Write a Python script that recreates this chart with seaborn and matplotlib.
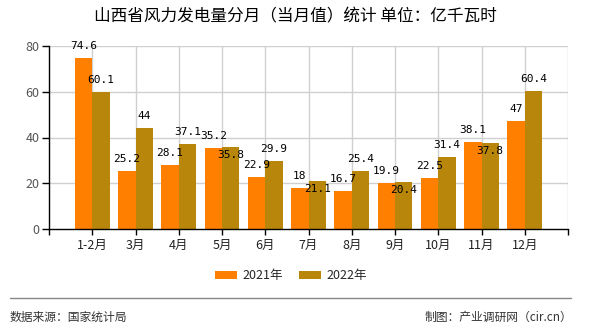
import matplotlib
matplotlib.use("Agg")
import matplotlib.pyplot as plt
from matplotlib.lines import Line2D
import seaborn as sns
import pandas as pd

categories = ["1-2月", "3月", "4月", "5月", "6月", "7月", "8月", "9月", "10月", "11月", "12月"]
values_2021 = [74.6, 25.2, 28.1, 35.2, 22.9, 18, 16.7, 19.9, 22.5, 38.1, 47]
values_2022 = [60.1, 44, 37.1, 35.8, 29.9, 21.1, 25.4, 20.4, 31.4, 37.8, 60.4]
series_names = ["2021年", "2022年"]
# labels of 2022 placed inside bar top (to avoid overlap), as in reference
inside_2022 = ["5月", "7月", "9月", "11月"]
yticks = [0, 20, 40, 60, 80]

sns.set_theme(style="white")
plt.rcParams['font.family'] = ['Noto Sans CJK SC', 'DejaVu Sans']

df = pd.DataFrame({
    "月份": categories * 2,
    "值": values_2021 + values_2022,
    "年份": [series_names[0]] * len(categories) + [series_names[1]] * len(categories),
})

fig = plt.figure(figsize=(5.9, 3.3), dpi=100)
ax = fig.add_axes([49/590, 1 - 229/330, (568 - 49)/590, (229 - 46)/330])

palette = {series_names[0]: "#FF8000", series_names[1]: "#B8860B"}
sns.barplot(data=df, x="月份", y="值", hue="年份", palette=palette, ax=ax,
            width=0.8, saturation=1, legend=True, zorder=3, linewidth=0, edgecolor="none")

ax.set_xlim(-1, len(categories))
ax.set_ylim(0, 80)
ax.set_yticks(yticks)
ax.set_xlabel("")
ax.set_ylabel("")

# grid
for y in yticks[1:]:
    ax.axhline(y, color="#d0d0d0", lw=1, zorder=1)
for x in range(0, len(categories) + 1):
    ax.axvline(x, color="#d0d0d0", lw=1, zorder=1)

for s in ["top", "right"]:
    ax.spines[s].set_visible(False)
for s in ["left", "bottom"]:
    ax.spines[s].set_color("black")
    ax.spines[s].set_linewidth(1)
    ax.spines[s].set_zorder(4)

ax.tick_params(axis="y", length=5, width=1, color="black", labelsize=9, labelcolor="#555555", pad=2, left=True)
ax.tick_params(axis="x", length=4, width=1, color="black", labelsize=9, labelcolor="#222222", pad=3, bottom=True)
ax.set_xticks(range(len(categories)))
ax.set_xticklabels(categories)
ax.set_xticks([-1, len(categories)], minor=True)
ax.tick_params(axis="x", which="minor", length=4, width=1, color="black", bottom=True)

# value labels
label_font = dict(fontsize=8, family="DejaVu Sans Mono", color="black", ha="center", va="center", zorder=6)
for cont_idx, cont in enumerate(ax.containers):
    vals = values_2021 if cont_idx == 0 else values_2022
    for i, rect in enumerate(cont):
        xc = rect.get_x() + rect.get_width() / 2
        v = vals[i]
        if cont_idx == 1 and categories[i] in inside_2022:
            off = -8
        else:
            off = 12
        ax.annotate(f"{v:g}", (xc, v), xytext=(0, off), textcoords="offset pixels", **label_font)

# legend
handles, labels = ax.get_legend_handles_labels()
ax.get_legend().remove()
fig.legend(handles, labels, loc="center", bbox_to_anchor=(291/590, 1 - 276/330), ncol=2,
           frameon=False, fontsize=9, handlelength=1.76, handleheight=0.65,
           handletextpad=0.4, columnspacing=1.3, borderaxespad=0)

# title
fig.text(295/590, 1 - 17/330, "山西省风力发电量分月（当月值）统计 单位：亿千瓦时",
         ha="center", va="center", fontsize=12, color="black")

# footer
fig.add_artist(Line2D([10/590, 571/590], [1 - 298/330, 1 - 298/330], color="#888888", lw=1))
fig.text(10/590, 1 - 317/330, "数据来源：国家统计局", ha="left", va="center", fontsize=8.5, color="#333333")
fig.text(572/590, 1 - 317/330, "制图：产业调研网（cir.cn）", ha="right", va="center", fontsize=8.5, color="#333333")

fig.savefig("out.png", dpi=100)
